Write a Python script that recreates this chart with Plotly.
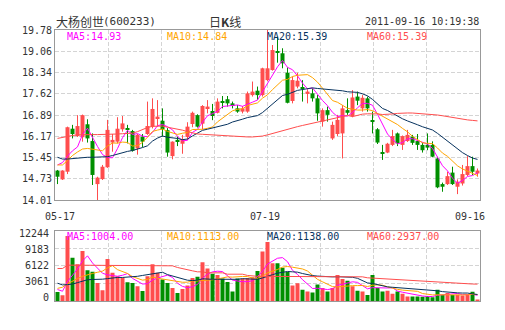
import pandas as pd
import plotly.graph_objects as go

# ---- 大杨创世 (600233) daily bars, 05-17 .. 09-16 ----
opens = [15.01, 14.71, 14.97, 16.43, 16.18, 16.14, 16.58, 16.01, 14.55, 14.72,
         15.12, 15.96, 15.99, 16.41, 16.42, 16.35, 15.76, 16.16, 16.25, 16.50,
         16.78, 16.70, 16.38, 15.50, 16.05, 15.92, 16.15, 16.59, 16.89, 16.60,
         17.12, 17.03, 16.97, 17.36, 17.43, 17.29, 17.12, 17.01, 17.01, 17.57,
         17.72, 17.57, 18.08, 18.42, 19.06, 18.99, 18.33, 17.37, 17.86, 17.82,
         17.61, 17.63, 17.46, 16.67, 17.06, 16.10, 16.25, 16.27, 17.06, 16.86,
         17.52, 17.12, 17.46, 16.70, 16.41, 15.62, 15.62, 15.88, 16.27, 15.88,
         16.01, 16.16, 16.01, 15.88, 15.88, 15.88, 15.42, 14.55, 14.55, 14.94,
         14.46, 14.57, 14.86, 15.16, 14.91]
highs = [15.03, 15.02, 16.50, 16.56, 16.89, 16.91, 16.75, 16.27, 14.80, 15.20,
         16.73, 16.25, 16.82, 16.86, 16.56, 16.39, 16.25, 16.25, 17.35, 17.46,
         17.40, 17.12, 16.45, 16.00, 16.16, 16.22, 16.65, 17.01, 16.92, 17.23,
         17.40, 17.27, 17.46, 17.54, 17.54, 17.35, 17.23, 17.20, 17.69, 18.03,
         17.86, 18.50, 19.78, 19.27, 19.55, 19.16, 18.51, 18.20, 18.33, 18.08,
         17.77, 17.80, 17.57, 17.12, 17.18, 16.67, 16.90, 17.23, 17.46, 17.74,
         17.69, 17.57, 17.52, 17.01, 16.45, 15.88, 15.95, 16.39, 16.30, 16.20,
         16.39, 16.22, 16.25, 15.95, 16.27, 16.00, 15.48, 14.60, 14.97, 15.14,
         14.71, 15.20, 15.50, 15.48, 15.08]
lows = [14.55, 14.69, 14.89, 16.10, 16.15, 15.99, 15.96, 14.52, 14.01, 14.69,
        15.10, 15.65, 15.93, 16.33, 15.93, 15.65, 15.55, 15.80, 16.22, 16.44,
        16.50, 16.16, 15.48, 15.39, 15.84, 15.58, 16.05, 16.48, 16.47, 16.41,
        16.95, 16.72, 16.95, 17.12, 17.18, 17.12, 16.97, 16.95, 16.97, 17.52,
        17.40, 17.52, 18.05, 18.40, 18.67, 18.48, 17.29, 17.29, 17.80, 17.35,
        17.29, 17.35, 16.70, 16.50, 16.67, 16.05, 16.18, 15.42, 16.90, 16.82,
        17.23, 17.01, 17.01, 16.27, 15.91, 15.37, 15.60, 15.84, 15.84, 15.71,
        15.98, 15.88, 15.71, 15.62, 15.70, 15.46, 14.41, 14.29, 14.52, 14.52,
        14.21, 14.50, 14.82, 14.86, 14.80]
closes = [14.80, 15.01, 16.48, 16.25, 16.52, 16.89, 16.10, 14.86, 14.77, 15.14,
          16.39, 16.05, 16.43, 16.61, 16.39, 15.68, 16.22, 15.99, 16.52, 17.10,
          16.84, 16.41, 15.62, 15.99, 15.99, 16.08, 16.50, 16.97, 16.50, 17.20,
          17.18, 16.86, 17.35, 17.33, 17.29, 17.20, 17.01, 17.12, 17.63, 17.69,
          17.57, 18.48, 18.48, 19.10, 19.02, 18.65, 17.31, 18.08, 18.06, 17.78,
          17.69, 17.46, 16.95, 17.06, 16.90, 16.56, 16.73, 17.12, 16.97, 17.49,
          17.38, 17.48, 17.12, 16.66, 15.96, 15.59, 15.92, 16.18, 15.93, 16.18,
          16.22, 15.95, 15.88, 15.70, 15.79, 15.48, 14.44, 14.46, 14.82, 14.55,
          14.63, 14.89, 15.16, 14.97, 15.01]
volumes = [1580, 997, 11317, 7527, 6419, 8693, 5370, 5079, 3155, 1872,
           7294, 4904, 4321, 4029, 3271, 3155, 2572, 1756, 4321, 6419,
           4904, 3738, 3155, 2280, 1405, 2093, 2708, 3997, 4243, 6759,
           5655, 4734, 4550, 3936, 3322, 1664, 3936, 3936, 4001, 4119,
           5225, 8601, 10259, 6576, 6576, 5778, 5041, 2708, 3076, 1971,
           1664, 1479, 2893, 2279, 1664, 2279, 4550, 3813, 3506, 2585,
           1787, 1664, 1051, 4550, 2279, 1674, 1778, 1256, 1674, 1256,
           788, 788, 788, 736, 892, 661, 1971, 1035, 1409, 1035,
           1100, 950, 1100, 1630, 240]

# moving-average values before a full window of bars is on screen
ma5_head = [15.20, 15.28, 15.50, 15.68]
ma10_head = [15.20, 15.20, 15.35, 15.52, 15.64, 15.74, 15.76, 15.74, 15.70]
ma20_head = [15.46, 15.40, 15.40, 15.42, 15.44, 15.46, 15.46, 15.46, 15.46, 15.47,
             15.48, 15.52, 15.57, 15.62, 15.66, 15.69, 15.73, 15.79, 15.85]
ma60_head = [16.10, 16.14, 16.17, 16.20, 16.22, 16.23, 16.23, 16.23, 16.23, 16.23,
             16.23, 16.24, 16.25, 16.26, 16.27, 16.28, 16.33, 16.40, 16.47, 16.51,
             16.52, 16.52, 16.48, 16.45, 16.42, 16.38, 16.33, 16.28, 16.25, 16.24,
             16.23, 16.22, 16.21, 16.19, 16.17, 16.16, 16.15, 16.15, 16.15, 16.15,
             16.16, 16.18, 16.22, 16.27, 16.32, 16.37, 16.42, 16.46, 16.50, 16.54,
             16.58, 16.62, 16.65, 16.68, 16.72, 16.77, 16.82, 16.86, 16.88]
vma5_head = [2000, 1700, 3400, 4500]
vma10_head = [2200, 2400, 3000, 3500, 3900, 4300, 4600, 4800, 5000]
vma20_head = [3100, 2800, 2850, 2950, 3200, 3500, 3700, 3750, 3750, 3800,
              3900, 4050, 4100, 4100, 4150, 4200, 4300, 4450, 4600]
vma60_head = [5661, 5661, 6245, 6245, 6245, 6245, 6245, 6245, 6245, 6245,
              6245, 6245, 6245, 6245, 6245, 6245, 6245, 6245, 6245, 6245,
              6245, 6128, 6128, 6128, 5837, 5603, 5370, 5253, 5079, 5079,
              4904, 4904, 4904, 4904, 4670, 4670, 4670, 4670, 4450, 4350,
              4300, 4290, 4280, 4270, 4260, 4250, 4245, 4240, 4235, 4230,
              4225, 4220, 4215, 4212, 4210, 4207, 4205, 4202, 4200]

ma_names = ["MA5", "MA10", "MA20", "MA60"]
ma_windows = [5, 10, 20, 60]
price_ma_text = ["14.93", "14.84", "15.39", "15.39"]
volume_ma_text = ["1004.00", "1113.00", "1138.00", "2937.00"]

price_ticks = ["14.01", "14.73", "15.45", "16.17", "16.89", "17.62", "18.34", "19.06", "19.78"]
volume_ticks = ["0", "3061", "6122", "9183", "12244"]
date_labels = ["05-17", "07-19", "09-16"]
date_label_bars = [0, 42, 84]

RED = "#ff4d4d"
GREEN = "#008f00"
MA_COLORS = ["#ff00ff", "#ffa500", "#06325e", "#ff4d4d"]
TEXT = "#333333"
MONO = "DejaVu Sans Mono"
CJK = "Noto Sans CJK SC"

# ---- page geometry ----
W, H = 505, 330
ML, MR, MT, MB = 55, 25, 30, 29
PW, PH = W - ML - MR, H - MT - MB


def px(x):
    return (x - ML) / PW


def py(y):
    return (H - MB - y) / PH


def moving_average(values, window, head):
    rolled = pd.Series(values, dtype=float).rolling(window).mean().tolist()
    return list(head) + rolled[window - 1:]


n = len(closes)
bars = list(range(n))
rising = [c >= o for o, c in zip(opens, closes)]

fig = go.Figure()

# candles: wicks as thin lines, bodies as floating bars
for flag, col in ((True, RED), (False, GREEN)):
    wx, wy, bx, bbase, bh = [], [], [], [], []
    for i in bars:
        if rising[i] != flag:
            continue
        wx += [i, i, None]
        wy += [lows[i], highs[i], None]
        lo, hi = min(opens[i], closes[i]), max(opens[i], closes[i])
        bx.append(i)
        bbase.append(lo)
        bh.append(max(hi - lo, 0.03))
    fig.add_trace(go.Scatter(x=wx, y=wy, mode="lines", line=dict(color=col, width=1),
                             xaxis="x", yaxis="y", hoverinfo="skip"))
    fig.add_trace(go.Bar(x=bx, y=bh, base=bbase, width=0.8,
                         marker=dict(color=col, line=dict(width=0)),
                         xaxis="x", yaxis="y", hoverinfo="skip"))

price_heads = [ma5_head, ma10_head, ma20_head, ma60_head]
for win, head, col in zip(ma_windows, price_heads, MA_COLORS):
    fig.add_trace(go.Scatter(x=bars, y=moving_average(closes, win, head), mode="lines",
                             line=dict(color=col, width=1), xaxis="x", yaxis="y",
                             hoverinfo="skip"))

# volume panel
fig.add_trace(go.Bar(x=bars, y=volumes, width=0.8,
                     marker=dict(color=[RED if r else GREEN for r in rising], line=dict(width=0)),
                     xaxis="x2", yaxis="y2", hoverinfo="skip"))
volume_heads = [vma5_head, vma10_head, vma20_head, vma60_head]
for win, head, col in zip(ma_windows, volume_heads, MA_COLORS):
    fig.add_trace(go.Scatter(x=bars, y=moving_average(volumes, win, head), mode="lines",
                             line=dict(color=col, width=1), xaxis="x2", yaxis="y2",
                             hoverinfo="skip"))

pmin, pmax = float(price_ticks[0]), float(price_ticks[-1])
vmax = float(volume_ticks[-1])
grid = dict(showgrid=True, gridcolor="#d4d4d4", griddash="4px,2px", gridwidth=1)
frame = dict(showline=True, mirror=True, linecolor="#999999", linewidth=1,
             zeroline=False, ticks="")
xgrid = [-0.5 + k * n / 8 for k in range(1, 8)]

fig.update_layout(
    width=W, height=H,
    margin=dict(l=ML, r=MR, t=MT, b=MB),
    paper_bgcolor="white", plot_bgcolor="white",
    showlegend=False, hovermode=False, barmode="overlay",
    xaxis=dict(domain=[0, 1], range=[-0.5, n - 0.5], anchor="y", tickvals=xgrid,
               showticklabels=False, **grid, **frame),
    yaxis=dict(domain=[py(200), 1], range=[pmin, pmax], anchor="x",
               tickvals=[pmin + k * (pmax - pmin) / 8 for k in range(9)],
               ticktext=price_ticks, tickfont=dict(family=MONO, size=10, color=TEXT),
               **grid, **frame),
    xaxis2=dict(domain=[0, 1], range=[-0.5, n - 0.5], anchor="y2", matches="x",
                tickvals=xgrid, showticklabels=False, **grid, **frame),
    yaxis2=dict(domain=[0, py(230.7)], range=[0, vmax], anchor="x2",
                tickvals=[vmax * k / 4 for k in range(1, 4)], showticklabels=False,
                **grid, **frame),
)

ann = []


def label(text, x, y, anchor="left", size=10, family=MONO, color=TEXT):
    ann.append(dict(text=text, x=px(x), y=py(y), xref="paper", yref="paper",
                    xanchor=anchor, yanchor="middle", showarrow=False,
                    font=dict(family=family, size=size, color=color)))


# header
label("大杨创世", 54, 21, size=12, family=CJK)
label("(600233)", 101, 21, size=11)
label("日<b>K</b>线", 225, 21, anchor="center", size=12, family=CJK)
label("2011-09-16 10:19:38", 481, 21, anchor="right")

# moving-average readouts
for k, (name, pv, vv, col) in enumerate(zip(ma_names, price_ma_text, volume_ma_text, MA_COLORS)):
    label(f"{name}:{pv}", 65 + 100 * k, 36, color=col)
    label(f"{name}:{vv}", 65 + 100 * k, 236.5, color=col)

# date labels under the price panel
for text, b, shift in zip(date_labels, date_label_bars, [2, -3, -8]):
    label(text, 57.5 + 5 * b + shift, 216.5, anchor="center")

# volume axis labels, kept inside the panel
for k, text in enumerate(reversed(volume_ticks)):
    label(text, 51, 233.3 + 16 * k, anchor="right")

fig.update_layout(annotations=ann)
fig.write_html("out.html")
